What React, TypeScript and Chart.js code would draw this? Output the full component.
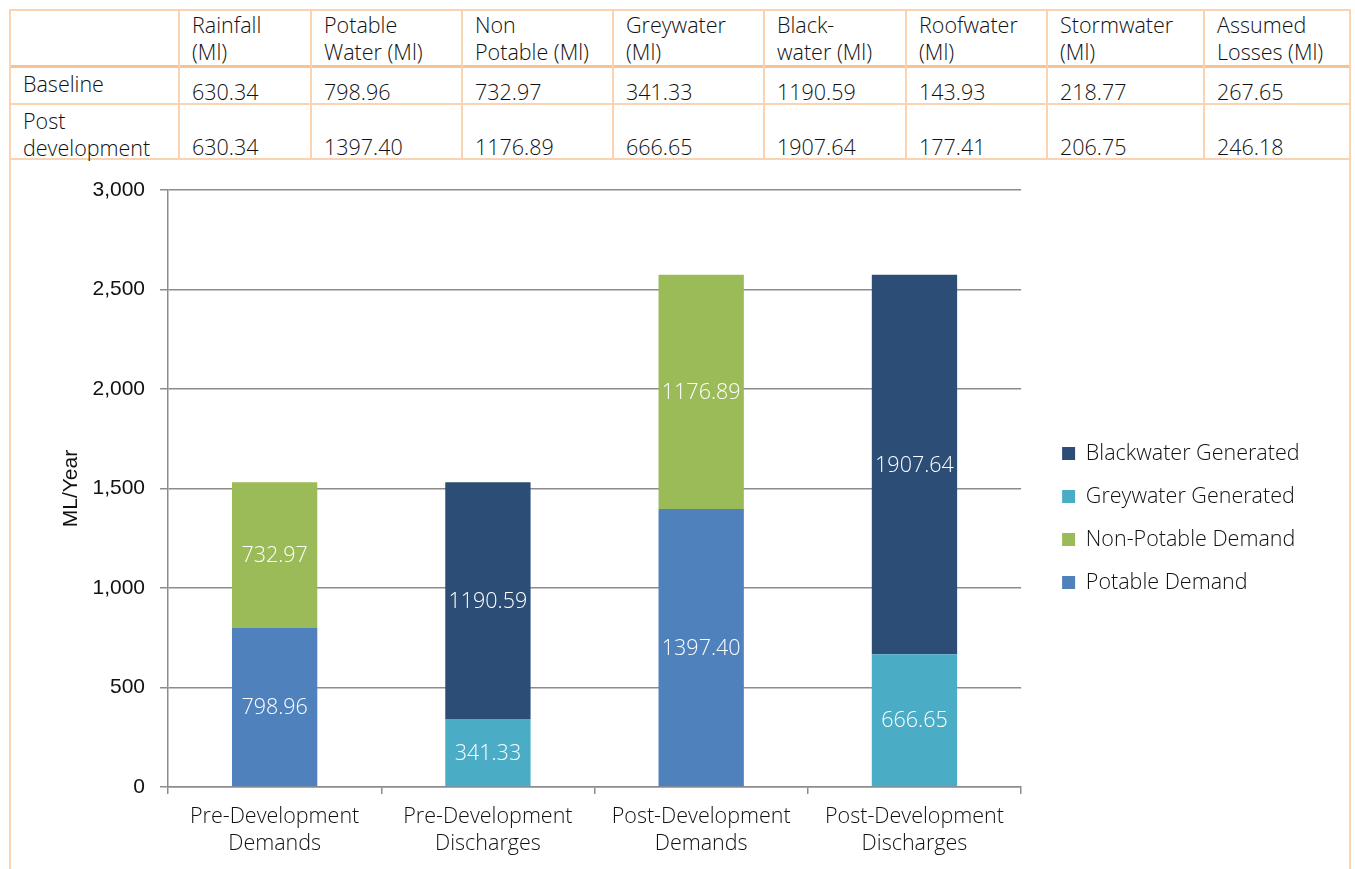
import React, { useEffect, useRef } from 'react';
import { Chart, registerables } from 'chart.js';

Chart.register(...registerables);

// ---------- data ----------
const categories = [
  ['Pre-Development', 'Demands'],
  ['Pre-Development', 'Discharges'],
  ['Post-Development', 'Demands'],
  ['Post-Development', 'Discharges'],
];
const potableDemand = [798.96, null, 1397.4, null];
const nonPotableDemand = [732.97, null, 1176.89, null];
const greywaterGenerated = [null, 341.33, null, 666.65];
const blackwaterGenerated = [null, 1190.59, null, 1907.64];
const yMin = 0;
const yMax = 3000;
const yStep = 500;
const yTitle = 'ML/Year';

const tableHeaders = [
  [],
  ['Rainfall', '(Ml)'],
  ['Potable', 'Water (Ml)'],
  ['Non', 'Potable (Ml)'],
  ['Greywater', '(Ml)'],
  ['Black-', 'water (Ml)'],
  ['Roofwater', '(Ml)'],
  ['Stormwater', '(Ml)'],
  ['Assumed', 'Losses (Ml)'],
];
const rowLabels = [['Baseline'], ['Post', 'development']];
const baselineValues = ['630.34', '798.96', '732.97', '341.33', '1190.59', '143.93', '218.77', '267.65'];
const postDevelopmentValues = ['630.34', '1397.40', '1176.89', '666.65', '1907.64', '177.41', '206.75', '246.18'];

// ---------- layout / style ----------
const FONT = '"Open Sans", "Noto Sans", sans-serif';
const AXIS_FONT = '"Liberation Sans", Arial, sans-serif';
const TEXT = '#111111';
const BORDER = '#FAD3B2';
const BORDER_STRONG = '#F8C291';
const GRID = '#8c8c8c';
const colLines = [9, 178, 310, 461, 612, 763, 905, 1046, 1203, 1349];

const barValueLabels = {
  id: 'barValueLabels',
  afterDatasetsDraw(chart: any) {
    const { ctx } = chart;
    ctx.save();
    ctx.font = `300 21.5px ${FONT}`;
    ctx.fillStyle = '#ffffff';
    ctx.textAlign = 'center';
    ctx.textBaseline = 'middle';
    chart.data.datasets.forEach((ds: any, i: number) => {
      const meta = chart.getDatasetMeta(i);
      if (meta.hidden) return;
      meta.data.forEach((el: any, j: number) => {
        const v = ds.data[j];
        if (v == null) return;
        const { x, y, base } = el.getProps(['x', 'y', 'base'], true);
        ctx.fillText(Number(v).toFixed(2), x, (y + base) / 2 + 1);
      });
    });
    ctx.restore();
  },
};

function ChartCanvas() {
  const ref = useRef<HTMLCanvasElement | null>(null);
  useEffect(() => {
    if (!ref.current) return;
    const chart = new Chart(ref.current, {
      type: 'bar',
      data: {
        labels: categories,
        datasets: [
          { label: 'Potable Demand', data: potableDemand, backgroundColor: '#4F81BD', stack: 's' },
          { label: 'Non-Potable Demand', data: nonPotableDemand, backgroundColor: '#9BBB59', stack: 's' },
          { label: 'Greywater Generated', data: greywaterGenerated, backgroundColor: '#4BACC6', stack: 's' },
          { label: 'Blackwater Generated', data: blackwaterGenerated, backgroundColor: '#2C4D75', stack: 's' },
        ] as any,
      },
      options: {
        responsive: false,
        animation: false,
        events: [],
        layout: { padding: { left: 0, top: 6, right: 38.5, bottom: 0 } },
        datasets: { bar: { barPercentage: 0.5, categoryPercentage: 0.8 } } as any,
        plugins: {
          legend: {
            position: 'right',
            align: 'center',
            reverse: true,
            maxWidth: 400,
            labels: {
              boxWidth: 13,
              boxHeight: 13,
              padding: 21.5,
              color: TEXT,
              font: { family: FONT, size: 21.5, weight: '300' },
            },
          },
          tooltip: { enabled: false },
        },
        scales: {
          x: {
            stacked: true,
            grid: {
              display: true,
              drawOnChartArea: false,
              drawTicks: true,
              tickLength: 7,
              color: GRID,
              lineWidth: 1.5,
              offset: true,
            },
            border: { display: true, color: GRID, width: 1.5 },
            ticks: {
              color: TEXT,
              font: { family: FONT, size: 21.5, lineHeight: 1.26, weight: '300' },
              padding: 9,
              maxRotation: 0,
              autoSkip: false,
            },
            afterFit: (s: any) => { s.height = 82; },
          },
          y: {
            stacked: true,
            min: yMin,
            max: yMax,
            grid: { color: GRID, lineWidth: 1.5, tickLength: 8, drawTicks: true },
            border: { display: true, color: GRID, width: 1.5 },
            ticks: {
              stepSize: yStep,
              color: TEXT,
              font: { family: AXIS_FONT, size: 21 },
              padding: 15,
            },
            title: {
              display: true,
              text: yTitle,
              color: TEXT,
              font: { family: AXIS_FONT, size: 21 },
              padding: { top: 48, bottom: 0 },
            },
            afterFit: (s: any) => { s.width = 157; },
          },
          gapTop: {
            type: 'linear',
            position: 'top',
            display: true,
            grid: { display: false },
            border: { display: false },
            ticks: { display: false },
            afterFit: (s: any) => { s.height = 23; },
          },
          gapRight: {
            type: 'linear',
            position: 'right',
            display: true,
            grid: { display: false },
            border: { display: false },
            ticks: { display: false },
            afterFit: (s: any) => { s.width = 19.5; },
          },
        } as any,
      },
      plugins: [barValueLabels],
    });
    return () => chart.destroy();
  }, []);
  return <canvas ref={ref} width={1337} height={708} style={{ position: 'absolute', left: 11, top: 161, width: 1337, height: 708 }} />;
}

function Table() {
  const items: React.ReactNode[] = [];
  const hLine = (y: number, h: number, c: string, k: string) => (
    <div key={k} style={{ position: 'absolute', left: 9, top: y, width: 1342, height: h, background: c }} />
  );
  items.push(hLine(9, 2, BORDER, 'h0'));
  items.push(hLine(65, 3, BORDER_STRONG, 'h1'));
  items.push(hLine(103, 2, BORDER, 'h2'));
  items.push(hLine(158, 2, BORDER, 'h3'));
  colLines.forEach((x, i) => {
    const outer = i === 0 || i === colLines.length - 1;
    items.push(
      <div key={'v' + i} style={{ position: 'absolute', left: x, top: 9, width: 2, height: outer ? 880 : 151, background: BORDER }} />
    );
  });
  const textStyle = (x: number, y: number): React.CSSProperties => ({
    position: 'absolute', left: x, top: y, fontFamily: FONT, fontWeight: 300, fontSize: 21.5, lineHeight: '27.4px', color: TEXT, whiteSpace: 'nowrap',
  });
  tableHeaders.forEach((lines, i) => {
    if (!lines.length) return;
    items.push(
      <div key={'th' + i} style={textStyle(colLines[i] + 14, 11)}>
        {lines.map((l, k) => <div key={k}>{l}</div>)}
      </div>
    );
  });
  const rows = [baselineValues, postDevelopmentValues];
  const labelTops = [69.5, 106.5];
  const valueTops = [77.5, 132.5];
  rows.forEach((vals, r) => {
    items.push(
      <div key={'rl' + r} style={textStyle(colLines[0] + 14, labelTops[r])}>
        {rowLabels[r].map((l, k) => <div key={k}>{l}</div>)}
      </div>
    );
    vals.forEach((v, c) => {
      items.push(<div key={'c' + r + '-' + c} style={textStyle(colLines[c + 1] + 14, valueTops[r])}>{v}</div>);
    });
  });
  return <>{items}</>;
}

export default function App() {
  return (
    <div style={{ position: 'fixed', left: 0, top: 0, width: 1355, height: 869, overflow: 'hidden', background: '#ffffff' }}>
      <Table />
      <ChartCanvas />
    </div>
  );
}
